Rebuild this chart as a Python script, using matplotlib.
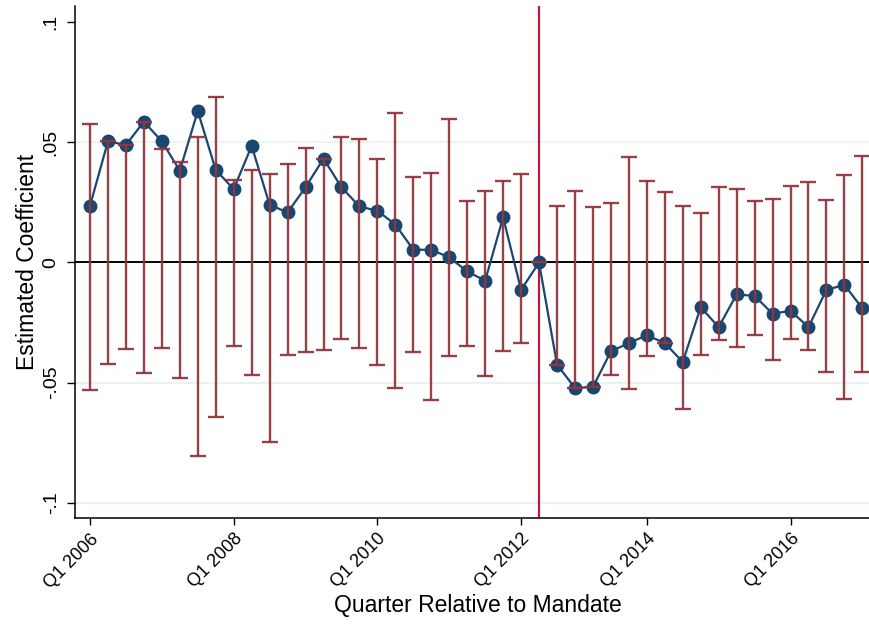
import matplotlib
matplotlib.use("Agg")
import matplotlib.pyplot as plt
import numpy as np

plt.rcParams['font.family'] = ['Liberation Sans', 'DejaVu Sans']

# Quarter index (0 = Q1 2006)
quarters = list(range(44))
coef = [0.0236, 0.0504, 0.0489, 0.0586, 0.0504, 0.0382, 0.0630, 0.0385, 0.0305, 0.0485,
        0.0240, 0.0208, 0.0313, 0.0432, 0.0313, 0.0233, 0.0215, 0.0158, 0.0053, 0.0053,
        0.0021, -0.0037, -0.0076, 0.0188, -0.0114, 0.0, -0.0425, -0.0522, -0.0518, -0.0370,
        -0.0335, -0.0303, -0.0335, -0.0414, -0.0186, -0.0269, -0.0133, -0.0139, -0.0213, -0.0201,
        -0.0269, -0.0114, -0.0093, -0.0191]
upper = [0.0576, 0.0504, 0.0489, 0.0586, 0.0472, 0.0417, 0.0524, 0.0687, 0.0344, 0.0385,
         0.0367, 0.0409, 0.0478, 0.0432, 0.0520, 0.0513, 0.0429, 0.0621, 0.0357, 0.0371,
         0.0597, 0.0254, 0.0298, 0.0339, 0.0367, 0.0, 0.0237, 0.0298, 0.0229, 0.0249,
         0.0438, 0.0337, 0.0292, 0.0234, 0.0205, 0.0313, 0.0305, 0.0255, 0.0263, 0.0319,
         0.0333, 0.0258, 0.0364, 0.0443]
lower = [-0.0529, -0.0423, -0.0359, -0.0460, -0.0356, -0.0481, -0.0806, -0.0644, -0.0349, -0.0468,
         -0.0745, -0.0384, -0.0374, -0.0363, -0.0317, -0.0356, -0.0425, -0.0522, -0.0373, -0.0571,
         -0.0388, -0.0349, -0.0474, -0.0367, -0.0335, 0.0, -0.0425, -0.0522, -0.0518, -0.0467,
         -0.0526, -0.0388, -0.0335, -0.0608, -0.0384, -0.0321, -0.0351, -0.0302, -0.0406, -0.0319,
         -0.0363, -0.0456, -0.0568, -0.0456]
xtick_pos = [0, 8, 16, 24, 31, 39]
xtick_labels = ["Q1 2006", "Q1 2008", "Q1 2010", "Q1 2012", "Q1 2014", "Q1 2016"]
ytick_pos = [0.1, 0.05, 0.0, -0.05, -0.1]
ytick_labels = [".1", ".05", "0", "-.05", "-.1"]
mandate_q = 25

fig = plt.figure(figsize=(8.69, 6.24), dpi=100)
ax = fig.add_axes([75/869, 106/624, 794/869, 512/624])

x = np.array(quarters)
lo = np.array(lower)
up = np.array(upper)
mid = (lo + up) / 2
half = (up - lo) / 2

for g in [0.05, -0.05, -0.1]:
    ax.axhline(g, color='#eaf2f3', lw=1.5, zorder=0)
ax.axhline(0, color='black', lw=1.4, zorder=1)
ax.axvline(mandate_q, color='#c4163c', lw=1.6, zorder=1)

ax.plot(x, coef, color='#1a476f', lw=1.6, marker='o', ms=9, zorder=3)
ax.errorbar(x, mid, yerr=half, fmt='none', ecolor='#93373e', elinewidth=1.7,
            capsize=5.5, capthick=1.7, zorder=4, alpha=0.95)

ax.set_xlim(-0.835, 43.37)
ax.set_ylim(-0.1063, 0.1067)

ax.set_yticks(ytick_pos)
ax.set_yticklabels(ytick_labels, rotation=90, va='center', fontsize=14)
ax.set_xticks(xtick_pos)
ax.set_xticklabels(xtick_labels, rotation=45, ha='right', rotation_mode='anchor', fontsize=13)

ax.tick_params(axis='y', direction='out', length=6, width=1, pad=5)
ax.tick_params(axis='x', direction='out', length=5, width=1, pad=4)

for s in ['top', 'right']:
    ax.spines[s].set_visible(False)
for s in ['left', 'bottom']:
    ax.spines[s].set_linewidth(1.1)

ax.set_ylabel("Estimated Coefficient", fontsize=16.5, labelpad=3)
ax.set_xlabel("Quarter Relative to Mandate", fontsize=16.5)
ax.xaxis.set_label_coords(0.507, -0.148)

fig.savefig("out.png", dpi=100)
